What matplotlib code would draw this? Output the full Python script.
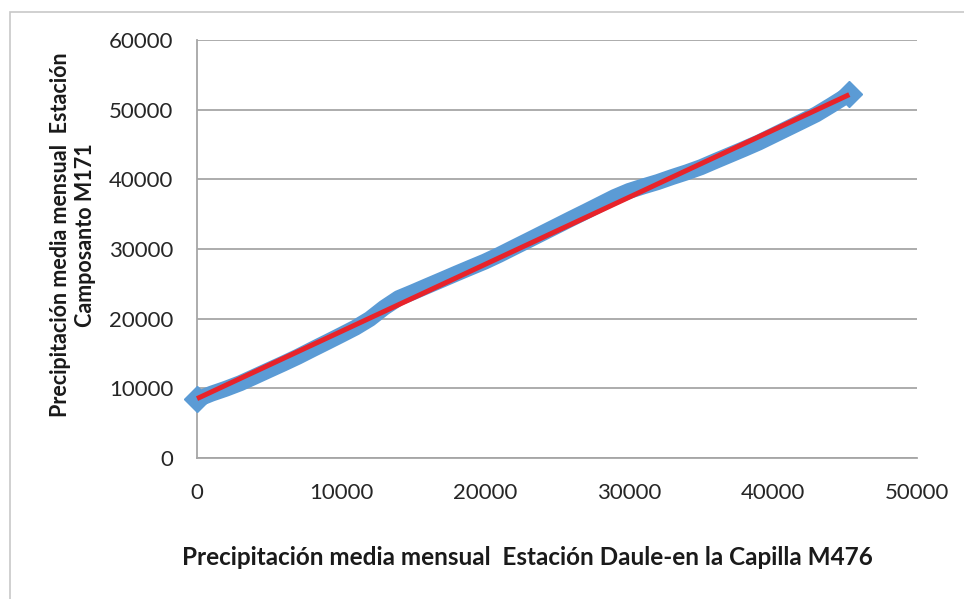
import numpy as np
import matplotlib
matplotlib.use("Agg")
import matplotlib.pyplot as plt
from matplotlib.patches import Rectangle

plt.rcParams['font.family'] = ['Lato', 'DejaVu Sans']

# cumulative monthly precipitation, Daule-en la Capilla (x) vs Camposanto (y)
daule_acum = [0, 1000, 2000, 3000, 4000, 5000, 6000, 7000, 8000, 9000,
              10000, 11000, 12000, 13000, 14000, 15000, 16000, 17000, 18000, 19000,
              20000, 21000, 22000, 23000, 24000, 25000, 26000, 27000, 28000, 29000,
              30000, 31000, 32000, 33000, 34000, 35000, 36000, 37000, 38000, 39000,
              40000, 41000, 42000, 43000, 44000, 45000, 45300]
campo_acum = [8400, 9230, 9940, 10730, 11670, 12620, 13560, 14530, 15580, 16610,
              17650, 18710, 19960, 21580, 22950, 23810, 24700, 25580, 26470, 27340,
              28200, 29170, 30210, 31240, 32280, 33320, 34360, 35380, 36420, 37460,
              38330, 38990, 39610, 40330, 41000, 41740, 42630, 43500, 44370, 45270,
              46280, 47290, 48300, 49320, 50570, 51860, 52230]

x_ticks = [0, 10000, 20000, 30000, 40000, 50000]
y_ticks = [0, 10000, 20000, 30000, 40000, 50000, 60000]

x_label = "Precipitación media mensual  Estación Daule-en la Capilla M476"
y_label = "Precipitación media mensual  Estación\nCamposanto M171"

fig = plt.figure(figsize=(9.64, 5.99), dpi=100)
ax = fig.add_axes([0.2044, 0.2354, 0.7468, 0.6978])

x = np.array(daule_acum, dtype=float)
y = np.array(campo_acum, dtype=float)

# data series: dense diamonds merge into a thick band
ax.plot(x, y, color='#5B9BD5', lw=11.5, solid_capstyle='butt', solid_joinstyle='round',
        marker='D', ms=13, markevery=[0, len(x) - 1], mec='#5B9BD5', zorder=3,
        clip_on=False)

# linear trendline
m, b = np.polyfit(x, y, 1)
xl = np.array([x.min(), x.max()])
ax.plot(xl, m * xl + b, color='#E8232A', lw=3.6, solid_capstyle='butt', zorder=4,
        clip_on=False)

ax.set_xlim(0, 50000)
ax.set_ylim(0, 60000)
ax.set_xticks(x_ticks)
ax.set_yticks(y_ticks)
ax.set_xticklabels([str(t) for t in x_ticks], fontsize=16, color='#262626')
ax.set_yticklabels([str(t) for t in y_ticks], fontsize=16, color='#262626')
ax.tick_params(axis='both', length=0)
ax.tick_params(axis='x', pad=18)
ax.tick_params(axis='y', pad=17)

ax.yaxis.grid(True, color='#A6A6A6', lw=1.3)
ax.set_axisbelow(True)
for s in ['top', 'right']:
    ax.spines[s].set_visible(False)
for s in ['left', 'bottom']:
    ax.spines[s].set_color('#A6A6A6')
    ax.spines[s].set_linewidth(1.3)

fig.text(0.547, 0.07, x_label, ha='center', va='center', fontsize=17.5,
         fontweight='bold', color='#1a1a1a')
fig.text(0.0755, 0.608, y_label, ha='center', va='center', rotation=90,
         fontsize=15.5, fontweight='bold', color='#1a1a1a', linespacing=1.25,
         multialignment='center')

# chart area border
fig.patches.append(Rectangle((10 / 964, -0.1), 1.2, 1.1 - 12 / 599,
                             transform=fig.transFigure, fill=False,
                             edgecolor='#C8C8C8', lw=1.2))

fig.savefig('out.png', dpi=100)
